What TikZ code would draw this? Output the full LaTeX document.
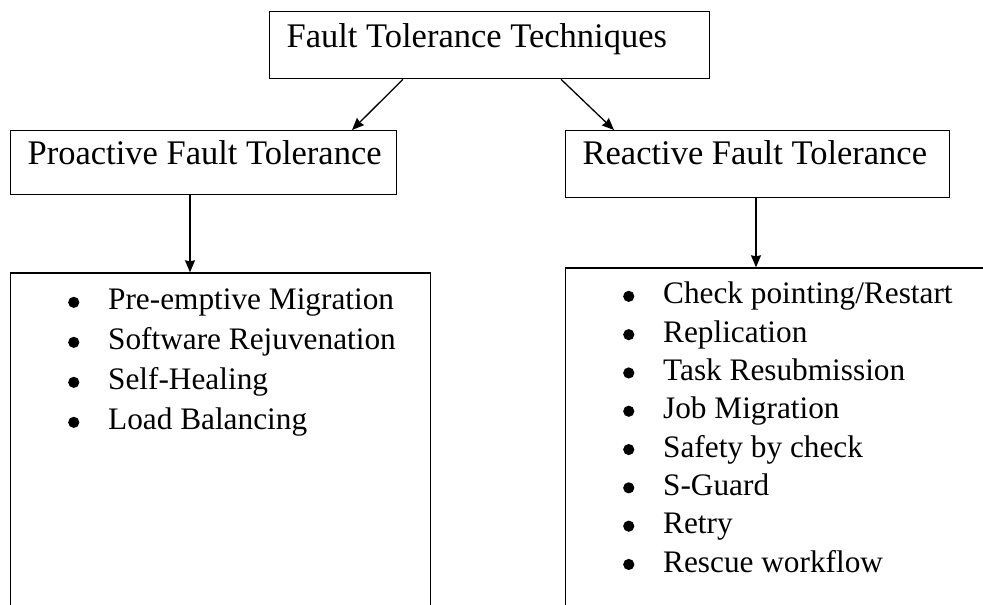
\documentclass[tikz,border=0pt]{standalone}
\usepackage{fontspec}
\setmainfont{Liberation Serif}
\usetikzlibrary{positioning}
\usetikzlibrary{arrows.meta}
\tikzset{>={Stealth[length=12pt,width=10pt,inset=1pt]}}
\newcommand{\itemdot}[1]{\hspace*{57.5pt}\makebox[40pt][l]{\raisebox{2pt}{\tikz\fill (0,0) circle (5.6pt);}}#1}

\begin{document}
\begin{tikzpicture}[x=1pt,y=-1pt,
					head/.style={draw, line width=1.3pt, anchor=north west, inner sep=0pt, inner xsep=17pt, font=\fontsize{34.5}{40}\selectfont},
					listbox/.style={draw, line width=1.3pt, anchor=north west, inner sep=0pt},
					link/.style={->, line width=1.3pt},
				]
				\path[use as bounding box, clip] (0,0) rectangle (983,605);

				\node[head, text height=36pt, text depth=31pt] (techniques) at (269,11) {\makebox[406pt][l]{Fault Tolerance Techniques}};
				\node[head, text height=34pt, text depth=30pt] (proactive) at (10,130) {\makebox[352pt][l]{Proactive Fault Tolerance}};
				\node[head, text height=34pt, text depth=33pt] (reactive) at (565,130) {\makebox[350pt][l]{Reactive Fault Tolerance}};

				% lists of techniques
				\node[listbox, below=77pt of proactive.south west, anchor=north west] (proactive_list) {%
					\parbox[t][360pt][t]{420pt}{\fontsize{31.3}{40}\selectfont\noindent
						\rule{0pt}{37pt}\itemdot{Pre-emptive Migration}\\
						\itemdot{Software Rejuvenation}\\
						\itemdot{Self-Healing}\\
						\itemdot{Load Balancing}}};
				\node[listbox, below=69pt of reactive.south west, anchor=north west] (reactive_list) {%
					\parbox[t][380pt][t]{450pt}{\fontsize{31.3}{38.3}\selectfont\noindent
						\rule{0pt}{36pt}\itemdot{Check pointing/Restart}\\
						\itemdot{Replication}\\
						\itemdot{Task Resubmission}\\
						\itemdot{Job Migration}\\
						\itemdot{Safety by check}\\
						\itemdot{S-Guard}\\
						\itemdot{Retry}\\
						\itemdot{Rescue workflow}}};

				\draw[link] ([xshift=134pt]techniques.south west) -- ([xshift=342pt]proactive.north west);
				\draw[link] ([xshift=292pt]techniques.south west) -- ([xshift=49pt]reactive.north west);
				\draw[link] ([xshift=180pt]proactive.south west) -- ([xshift=180pt]proactive_list.north west);
				\draw[link] ([xshift=191pt]reactive.south west) -- ([xshift=191pt]reactive_list.north west);

			\end{tikzpicture}
\end{document}
